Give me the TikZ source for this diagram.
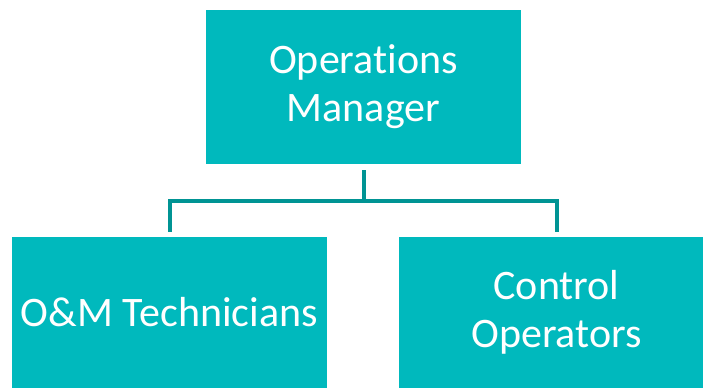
\documentclass[tikz,border=0pt]{standalone}
\usepackage{fontspec}
\setmainfont{Carlito}[Ligatures={NoCommon}]
\definecolor{boxfill}{HTML}{00B9BD}
\definecolor{linecol}{HTML}{009494}
\tikzset{
  orgbox/.style={fill=boxfill, draw=none, text=white, align=center, inner sep=0pt,
    font=\fontsize{42}{48}\selectfont},
  conn/.style={draw=linecol, line width=4pt, line join=miter}
}
\begin{document}
\begin{tikzpicture}[x=1pt,y=1pt]
\useasboundingbox (0,0) rectangle (703,-388);
\clip (0,0) rectangle (703,-388);
\node[orgbox, minimum width=315pt, minimum height=154pt] (mgr) at (363.5,-87) {Operations\\Manager};
\node[orgbox, minimum width=315pt, minimum height=151pt] (tech) at (169.5,-312.5) {O\&M Technicians};
\node[orgbox, minimum width=315pt, minimum height=151pt] (ops) at (556.5,-312.5) {Control\\Operators};
\coordinate (j) at (363.5,-201);
\draw[conn, shorten <=6pt] (mgr.south) -- (j);
\draw[conn, shorten >=5pt] (j) -| (tech.north);
\draw[conn, shorten >=5pt] (j) -| (ops.north);
\end{tikzpicture}
\end{document}
